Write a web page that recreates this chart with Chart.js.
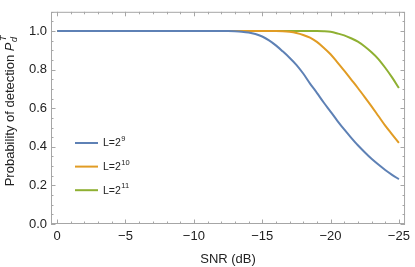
<!DOCTYPE html>
<html>
<head>
<meta charset="utf-8">
<script src="https://cdn.jsdelivr.net/npm/chart.js@4/dist/chart.umd.min.js"></script>
<style>
  html, body { margin: 0; padding: 0; background: #fff; }
  #wrap { width: 415px; height: 267px; position: relative; }
</style>
</head>
<body>
<div id="wrap"><canvas id="pdChart"></canvas></div>
<script>
// SNR in dB, half-dB steps (x axis runs from 0 down to -25)
const snr = [0, -0.5, -1, -1.5, -2, -2.5, -3, -3.5, -4, -4.5, -5, -5.5, -6, -6.5, -7, -7.5,
  -8, -8.5, -9, -9.5, -10, -10.5, -11, -11.5, -12, -12.5, -13, -13.5, -14, -14.5, -15, -15.5,
  -16, -16.5, -17, -17.5, -18, -18.5, -19, -19.5, -20, -20.5, -21, -21.5, -22, -22.5, -23,
  -23.5, -24, -24.5, -25];

// probability of detection
const pdL9 = [1, 1, 1, 1, 1, 1, 1, 1, 1, 1, 1, 1, 1, 1, 1, 1, 1, 1, 1, 1, 1, 1, 1, 1, 1, 1,
  0.999, 0.997, 0.993, 0.985, 0.972, 0.952, 0.926, 0.895, 0.862, 0.825, 0.78, 0.728, 0.68,
  0.63, 0.583, 0.535, 0.49, 0.448, 0.408, 0.372, 0.338, 0.308, 0.28, 0.255, 0.232];
const pdL10 = [1, 1, 1, 1, 1, 1, 1, 1, 1, 1, 1, 1, 1, 1, 1, 1, 1, 1, 1, 1, 1, 1, 1, 1, 1, 1,
  1, 1, 1, 1, 1, 1, 1,
  0.999, 0.996, 0.99, 0.98, 0.966, 0.944, 0.914, 0.88, 0.838, 0.795, 0.75, 0.705, 0.658,
  0.61, 0.56, 0.51, 0.465, 0.42];
const pdL11 = [1, 1, 1, 1, 1, 1, 1, 1, 1, 1, 1, 1, 1, 1, 1, 1, 1, 1, 1, 1, 1, 1, 1, 1, 1, 1,
  1, 1, 1, 1, 1, 1, 1, 1, 1, 1, 1, 1, 1,
  0.999, 0.996, 0.988, 0.978, 0.963, 0.945, 0.92, 0.89, 0.855, 0.81, 0.76, 0.705];

const exponents = [9, 10, 11];
const colors = ['#5e81b5', '#e19c24', '#8fb032'];
const seriesData = [pdL9, pdL10, pdL11];

const xTicks = [0, -5, -10, -15, -20, -25];
const yTicks = [0, 0.2, 0.4, 0.6, 0.8, 1.0];

const FONT = '"Liberation Sans", Arial, sans-serif';
const frameColor = '#a6a6a6';

// frame with inward major/minor ticks on all four sides
const framePlugin = {
  id: 'frame',
  beforeDatasetsDraw(chart) {
    const { ctx, chartArea: a, scales } = chart;
    ctx.save();
    ctx.strokeStyle = frameColor;
    ctx.lineWidth = 1;
    ctx.strokeRect(a.left + 0.5, a.top + 0.5, a.right - a.left - 1, a.bottom - a.top - 1);
    ctx.beginPath();
    for (let v = 0; v >= -25; v--) {
      const x = Math.round(scales.x.getPixelForValue(v)) + 0.5;
      const len = v % 5 === 0 ? 4.5 : 2.5;
      ctx.moveTo(x, a.bottom); ctx.lineTo(x, a.bottom - len);
      ctx.moveTo(x, a.top); ctx.lineTo(x, a.top + len);
    }
    for (let i = 0; i <= 22; i++) {
      const v = i * 0.05;
      const y = Math.round(scales.y.getPixelForValue(v)) + 0.5;
      const len = i % 4 === 0 ? 4.5 : 2.5;
      ctx.moveTo(a.left, y); ctx.lineTo(a.left + len, y);
      ctx.moveTo(a.right, y); ctx.lineTo(a.right - len, y);
    }
    ctx.stroke();
    ctx.restore();
  },
  afterDraw(chart) {
    const { ctx, chartArea: a } = chart;
    ctx.save();
    // y axis title with P_d^T
    ctx.translate(13.5, (a.top + a.bottom) / 2 - 6.5);
    ctx.rotate(-Math.PI / 2);
    ctx.fillStyle = '#222';
    ctx.textBaseline = 'alphabetic';
    const main = 'Probability of detection ';
    ctx.font = '13px ' + FONT;
    const w1 = ctx.measureText(main).width;
    ctx.font = 'italic 13px ' + FONT;
    const w2 = ctx.measureText('P').width;
    ctx.font = 'italic 9px ' + FONT;
    const w3 = ctx.measureText('d').width;
    const total = w1 + w2 + w3 + 1;
    let x = -total / 2;
    ctx.font = '13px ' + FONT;
    ctx.fillText(main, x, 0); x += w1;
    ctx.font = 'italic 13px ' + FONT;
    ctx.fillText('P', x, 0); x += w2;
    ctx.font = 'italic 9px ' + FONT;
    ctx.fillText('d', x + 0.5, 3);
    ctx.fillText('T', x + 1.5, -8);
    ctx.restore();

    // legend inside the plot
    ctx.save();
    chart.data.datasets.forEach((ds, i) => {
      const y = 143 + i * 23.6;
      ctx.strokeStyle = ds.borderColor;
      ctx.lineWidth = 2;
      ctx.beginPath();
      ctx.moveTo(75, y); ctx.lineTo(98, y);
      ctx.stroke();
      ctx.fillStyle = '#222';
      ctx.textBaseline = 'middle';
      ctx.font = '10.5px ' + FONT;
      ctx.fillText('L=2', 103, y + 0.5);
      const w = ctx.measureText('L=2').width;
      ctx.font = '7.5px ' + FONT;
      ctx.fillText(String(exponents[i]), 103 + w + 0.5, y - 4);
    });
    ctx.restore();
  }
};

const ctx = document.getElementById('pdChart').getContext('2d');
const pdChart = new Chart(ctx, {
  type: 'line',
  data: {
    datasets: seriesData.map((d, i) => ({
      label: 'L=2^' + exponents[i],
      data: snr.map((s, j) => ({ x: s, y: d[j] })),
      borderColor: colors[i],
      borderWidth: 2,
      pointRadius: 0,
      cubicInterpolationMode: 'monotone',
      fill: false
    }))
  },
  options: {
    responsive: true,
    maintainAspectRatio: false,
    animation: false,
    layout: { padding: { top: 2, right: 5, left: 0, bottom: 0 } },
    plugins: {
      legend: { display: false },
      tooltip: { enabled: false }
    },
    scales: {
      x: {
        type: 'linear',
        reverse: true,
        min: -25.45,
        max: 0.45,
        afterBuildTicks: (scale) => { scale.ticks = xTicks.map(v => ({ value: v })); },
        afterFit: (scale) => { scale.height = 43; },
        grid: { display: false, drawTicks: false },
        border: { display: false },
        ticks: {
          padding: 5,
          maxRotation: 0,
          color: '#222',
          font: { family: FONT, size: 13 },
          callback: (v) => (v === 0 ? '0' : '\u2212' + Math.abs(v))
        },
        title: {
          display: true,
          text: 'SNR (dB)',
          color: '#222',
          font: { family: FONT, size: 13 },
          padding: { top: 6, bottom: 0 }
        }
      },
      y: {
        min: 0,
        max: 1.1,
        afterBuildTicks: (scale) => { scale.ticks = yTicks.map(v => ({ value: v })); },
        afterFit: (scale) => { scale.width = 51; },
        grid: { display: false, drawTicks: false },
        border: { display: false },
        ticks: {
          padding: 4,
          color: '#222',
          font: { family: FONT, size: 13 },
          callback: (v) => v.toFixed(1)
        }
      }
    }
  },
  plugins: [framePlugin]
});
</script>
</body>
</html>
